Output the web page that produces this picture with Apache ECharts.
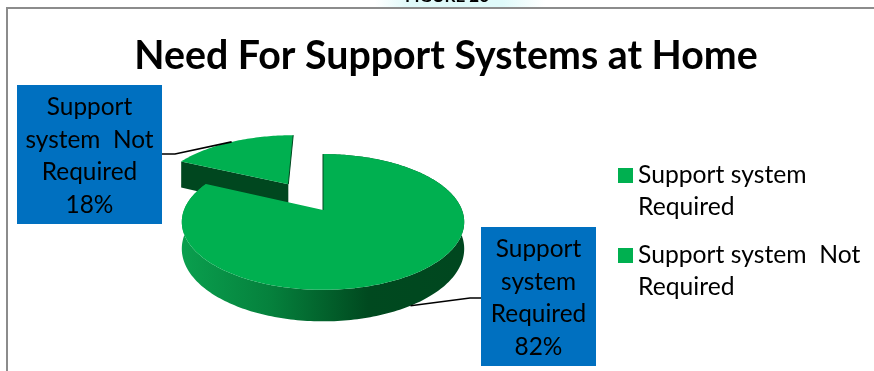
<!DOCTYPE html>
<html>
<head>
<meta charset="utf-8">
<style>html,body{margin:0;padding:0;background:#fff}#chart{width:874px;height:371px}</style>
<script src="https://cdn.jsdelivr.net/npm/echarts@6/dist/echarts.min.js"></script>
</head>
<body>
<div id="chart"></div>
<script>
// Chart content
const chartTitle = 'Need For Support Systems at Home';
const figureCaption = 'FIGURE 26';
const sliceNames = ['Support system Required', 'Support system  Not Required'];
const sliceValues = [82, 18];
const legendTexts = ['Support system\nRequired', 'Support system  Not\nRequired'];
const calloutTexts = ['Support\nsystem\nRequired', 'Support\nsystem  Not\nRequired'];
const explodedBy = [0, 0.5];

// Perspective projection of the pie's ground plane
const CX = 323, RX = 139, DEPTH = 26, SLICE_DEPTH = 30;
const PA = 28.8, PB = 210, PC = -0.176;
const project = (u, v, lift) => {
  const w = 1 + PC * v;
  return [CX + RX * u / w, (PA * v + PB) / w + (lift || 0) / w];
};

const total = sliceValues.reduce((a, b) => a + b, 0);
const clockPoint = a => [Math.sin(a), -Math.cos(a)];

// Faces of one slice, worked out from its share of the total
function sliceGeometry(i, value) {
  const before = sliceValues.slice(0, i).reduce((a, b) => a + b, 0);
  const a0 = before / total * Math.PI * 2;
  const a1 = a0 + value / total * Math.PI * 2;
  const mid = clockPoint((a0 + a1) / 2);
  const du = mid[0] * explodedBy[i], dv = mid[1] * explodedBy[i];
  const at = (a, lift) => {
    const p = clockPoint(a);
    return project(p[0] + du, p[1] + dv, lift);
  };
  const arc = lift => {
    const pts = [];
    const n = Math.ceil((a1 - a0) * 50);
    for (let k = 0; k <= n; k++) pts.push(at(a0 + (a1 - a0) * k / n, lift));
    return pts;
  };
  return {
    apex: lift => project(du, dv, lift),
    start: lift => at(a0, lift),
    end: lift => at(a1, lift),
    mid: lift => at((a0 + a1) / 2, lift),
    arc
  };
}

const WALL_DARK = '#00471f';
const wallGradient = new echarts.graphic.LinearGradient(0, 0, 1, 0, [
  { offset: 0, color: '#0a9f4e' },
  { offset: 0.32, color: '#05803c' },
  { offset: 0.66, color: '#00491f' },
  { offset: 1, color: WALL_DARK }
]);

const calloutBoxes = [
  { x: 481, y: 227, width: 115, height: 139, textY: 298, from: [481, 298], elbow: [470, 298], lift: DEPTH },
  { x: 17, y: 85, width: 145, height: 139, textY: 156, from: [162, 154], elbow: [175, 154], lift: 0 }
];

function renderSlice(i) {
  return function (params, api) {
    const value = api.value(0);
    const g = sliceGeometry(i, value);
    const base = i === 0 ? 20 : 10;
    const top = g.arc(0);
    const children = [];

    if (i === 0) {
      // Rim of the main body, with the top face painted over its far side
      children.push({
        type: 'polygon', z2: base,
        shape: { points: top.concat(g.arc(DEPTH).reverse()) },
        style: { fill: wallGradient }
      });
    } else {
      // Cut face turned towards the viewer on the pulled-out slice
      children.push({
        type: 'polygon', z2: base,
        shape: { points: [g.start(0), g.apex(0), g.apex(SLICE_DEPTH), g.start(SLICE_DEPTH)] },
        style: { fill: WALL_DARK }
      });
    }
    children.push({
      type: 'polygon', z2: base + 1,
      shape: { points: [g.apex(0)].concat(top) },
      style: { fill: '#00b050' }
    });
    // Thin dark edge along the cut that faces away
    const edge = i === 0 ? g.start(0) : g.end(0);
    children.push({
      type: 'line', z2: base + 2,
      shape: { x1: edge[0], y1: edge[1], x2: g.apex(0)[0], y2: g.apex(0)[1] },
      style: { stroke: WALL_DARK, lineWidth: 1 }
    });

    // Callout box with its leader line
    const box = calloutBoxes[i];
    const anchor = g.mid(box.lift);
    children.push({
      type: 'polyline', z2: 30,
      shape: { points: [box.from, box.elbow, anchor] },
      style: { stroke: '#000', lineWidth: 1.6, fill: null }
    });
    children.push({
      type: 'rect', z2: 31,
      shape: { x: box.x, y: box.y, width: box.width, height: box.height },
      style: { fill: '#0070c0' }
    });
    children.push({
      type: 'text', z2: 32,
      style: {
        text: calloutTexts[i] + '\n' + value + '%',
        x: box.x + box.width / 2, y: box.textY,
        textAlign: 'center', textVerticalAlign: 'middle',
        font: '24.4px Lato', lineHeight: 32.5, fill: '#000'
      }
    });
    return { type: 'group', children };
  };
}

const chart = echarts.init(document.getElementById('chart'), null, { renderer: 'canvas' });
chart.setOption({
  animation: false,
  backgroundColor: '#fff',
  title: {
    text: chartTitle, left: 441, top: 32, textAlign: 'center',
    textStyle: { fontFamily: 'Lato', fontWeight: 'bold', fontSize: 39.3, color: '#000' }
  },
  legend: {
    orient: 'vertical', left: 613, top: 154, selectedMode: false,
    itemWidth: 15, itemHeight: 64, itemGap: 16,
    icon: 'path://M0,9H15V24H0Z M0,0H15V0H0Z M0,64H15V64H0Z',
    data: sliceNames,
    formatter: name => legendTexts[sliceNames.indexOf(name)],
    textStyle: { fontFamily: 'Lato', fontSize: 24.7, lineHeight: 32, color: '#000' }
  },
  graphic: [
    {
      type: 'rect', z: -1,
      shape: { x: 375, y: 0, width: 170, height: 8 },
      style: {
        fill: new echarts.graphic.LinearGradient(0, 0, 1, 0, [
          { offset: 0, color: '#ffffff' },
          { offset: 0.2, color: '#dff9f9' },
          { offset: 0.75, color: '#dffafa' },
          { offset: 1, color: '#ffffff' }
        ])
      }
    },
    {
      type: 'text', z: 1,
      style: {
        text: figureCaption, x: 447, y: 5, textAlign: 'center', textVerticalAlign: 'bottom',
        font: 'bold 17px Lato', fill: '#000'
      }
    },
    {
      type: 'polyline', z: 1,
      shape: { points: [[7, 371], [7, 8], [874, 8]] },
      style: { stroke: '#8c8c8c', lineWidth: 2, fill: null }
    }
  ],
  series: sliceValues.map((v, i) => ({
    type: 'custom',
    name: sliceNames[i],
    coordinateSystem: 'none',
    silent: true,
    itemStyle: { color: '#00b050' },
    data: [[v]],
    renderItem: renderSlice(i)
  }))
});
</script>
</body>
</html>
